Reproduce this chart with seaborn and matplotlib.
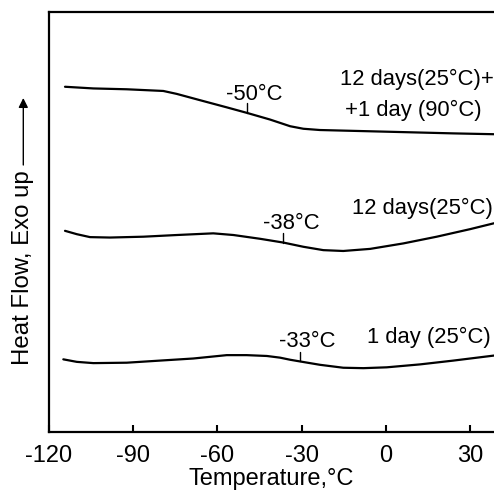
import numpy as np
import pandas as pd
import matplotlib
matplotlib.use("Agg")
import matplotlib.pyplot as plt
import seaborn as sns

# ---- data ----
t_top = [-114.3, -104.2, -92.3, -79.3, -74.5, -66.2, -56.7, -49.6, -41.3, -37.7,
         -34.1, -29.4, -23.5, -11.6, 6.2, 24.0, 38.5]
hf_top = [82.2, 81.8, 81.6, 81.2, 80.5, 79.0, 77.3, 76.0, 74.4, 73.6,
          72.8, 72.2, 71.9, 71.7, 71.4, 71.1, 70.9]

t_mid = [-114.3, -110.1, -105.4, -98.3, -86.4, -74.5, -61.5, -54.3, -44.8, -36.5,
         -29.4, -22.3, -15.2, -5.6, 6.2, 18.1, 30.0, 38.5]
hf_mid = [47.9, 47.1, 46.4, 46.3, 46.5, 46.9, 47.3, 46.9, 46.0, 45.1,
          44.1, 43.3, 43.1, 43.6, 44.9, 46.5, 48.3, 49.7]

t_bot = [-114.9, -110.1, -104.2, -92.3, -80.5, -68.6, -56.7, -49.6, -42.4, -37.7,
         -34.1, -30.6, -23.5, -15.2, -8.0, 0.3, 12.2, 24.0, 38.5]
hf_bot = [17.3, 16.7, 16.4, 16.5, 17.0, 17.5, 18.3, 18.3, 18.1, 17.7,
          17.2, 16.8, 16.0, 15.3, 15.2, 15.4, 16.1, 17.0, 18.2]

series_names = ["12 days(25°C)+1 day(90°C)", "12 days(25°C)", "1 day(25°C)"]
onset_temps = [-49.4, -36.5, -30.6]
onset_labels = ["-50°C", "-38°C", "-33°C"]
xticks = [-120, -90, -60, -30, 0, 30]

df = pd.concat([
    pd.DataFrame({"T": t_top, "HF": hf_top, "sample": series_names[0]}),
    pd.DataFrame({"T": t_mid, "HF": hf_mid, "sample": series_names[1]}),
    pd.DataFrame({"T": t_bot, "HF": hf_bot, "sample": series_names[2]}),
], ignore_index=True)

sns.set_theme(style="white")
plt.rcParams["font.family"] = ["Liberation Sans", "DejaVu Sans"]
plt.rcParams["text.color"] = "black"
plt.rcParams["axes.labelcolor"] = "black"
plt.rcParams["xtick.color"] = "black"

fig = plt.figure(figsize=(4.94, 4.92), dpi=100)
ax = fig.add_axes([49 / 494, 1 - 432 / 492, 1 - 49 / 494, (432 - 12) / 492])

sns.lineplot(data=df, x="T", y="HF", units="sample", estimator=None, sort=False,
             color="black", linewidth=1.6, ax=ax, legend=False)

ax.set_xlim(-120, 38.5)
ax.set_ylim(0, 100)
ax.set_xticks(xticks)
ax.set_xticklabels([str(v) for v in xticks])
ax.set_yticks([])
ax.tick_params(axis="x", direction="in", length=5, width=1.5, pad=9,
               labelsize=17, colors="black", bottom=True)
for s in ["left", "top", "bottom"]:
    ax.spines[s].set_visible(True)
    ax.spines[s].set_color("black")
    ax.spines[s].set_linewidth(1.6)
ax.spines["right"].set_visible(False)
ax.set_xlabel("Temperature,°C", fontsize=17, labelpad=1, color="black")
ax.set_ylabel("")

# onset markers
curves = [(t_top, hf_top), (t_mid, hf_mid), (t_bot, hf_bot)]
for (tt, hh), ot in zip(curves, onset_temps):
    yc = np.interp(ot, tt, hh)
    ax.plot([ot, ot], [yc, yc + 2.3], color="black", lw=1.0)

fs = 15.8
# onset labels
ax.text(-47.0, 79.0, onset_labels[0], ha="center", va="baseline", fontsize=fs)
ax.text(-33.8, 48.3, onset_labels[1], ha="center", va="baseline", fontsize=fs)
ax.text(-27.9, 20.3, onset_labels[2], ha="center", va="baseline", fontsize=fs)

# series labels
ax.text(-16.3, 82.6, "12 days(25°C)+", ha="left", va="baseline", fontsize=fs, clip_on=False)
ax.text(-14.5, 75.2, "+1 day (90°C)", ha="left", va="baseline", fontsize=fs, clip_on=False)
ax.text(-12.0, 51.9, "12 days(25°C)", ha="left", va="baseline", fontsize=fs, clip_on=False)
ax.text(-6.7, 21.1, "1 day (25°C)", ha="left", va="baseline", fontsize=fs, clip_on=False)

# y label with arrow
fig.text(23 / 494, 1 - 268 / 492, "Heat Flow, Exo up", rotation=90,
         ha="center", va="center", fontsize=17.3, color="black")
ax.annotate("", xy=(23.3 / 494, 1 - 98 / 492), xytext=(23.3 / 494, 1 - 165 / 492),
            xycoords="figure fraction", textcoords="figure fraction",
            arrowprops=dict(arrowstyle="-|>", color="black", lw=1.0,
                            mutation_scale=14, shrinkA=0, shrinkB=0))

fig.savefig("out.png", dpi=100)
